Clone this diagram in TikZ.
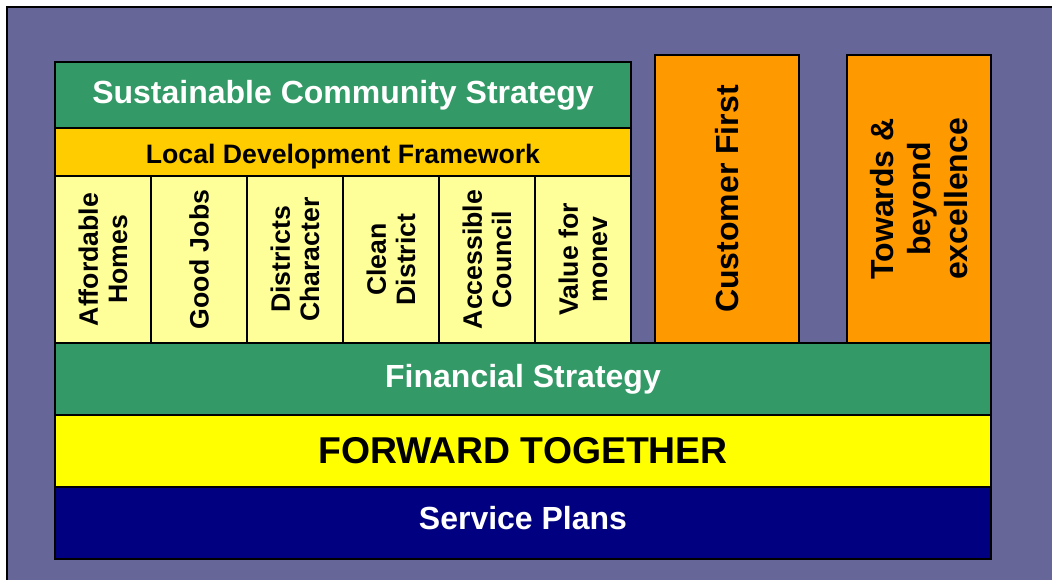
\documentclass[tikz,border=0pt]{standalone}
\usepackage{fontspec}
\setmainfont{Liberation Sans}
\definecolor{slate}{HTML}{666699}
\definecolor{teal}{HTML}{339966}
\definecolor{amber}{HTML}{FFCC00}
\definecolor{cream}{HTML}{FFFF99}
\definecolor{tangerine}{HTML}{FF9900}
\definecolor{lemon}{HTML}{FFFF00}
\definecolor{deepnavy}{HTML}{000080}

\begin{document}
\begin{tikzpicture}[x=0.75pt, y=-0.75pt,
  every node/.style={font=\bfseries\fontsize{24}{27.6}\selectfont},
  box/.style 2 args={draw, line width=1.1pt, inner sep=0pt, align=center,
    minimum width=#1*0.75pt, minimum height=#2*0.75pt},
  cell/.style={box={167}{96}, rotate=90, fill=cream,
    font=\bfseries\fontsize{20}{22}\selectfont}]
\useasboundingbox (0,0) rectangle (1052,580);
\draw[fill=slate, line width=0.8pt] (7,7) rectangle (1080,610);

% strategy stack on the left
\node[box={576}{66}, fill=teal, text=white] (scs) at (343,95) {Sustainable Community Strategy};
\node[box={576}{48}, fill=amber, text height=18pt, text depth=0pt,
  font=\bfseries\fontsize{20}{22}\selectfont] (ldf) at (343,152) {Local Development Framework};
\foreach \txt [count=\i from 0] in {{Affordable\\Homes}, {Good Jobs}, {Districts\\Character},
    {Clean\\District}, {Accessible\\Council}, {Value for\\monev}}
  \node[cell] (c\i) at (103+96*\i,259.5) {\txt};

% the two side columns
\node[box={288}{144}, rotate=90, fill=tangerine] (cust) at (727,199) {Customer First};
\node[box={288}{144}, rotate=90, fill=tangerine] (tow) at (919,199) {Towards \&\\beyond\\excellence};

% bands along the bottom
\node[box={936}{72}, fill=teal, text=white] (fin) at (523,379) {Financial Strategy};
\node[box={936}{72}, fill=lemon, font=\bfseries\fontsize{28}{32}\selectfont] (fwd) at (523,451) {FORWARD TOGETHER};
\node[box={936}{72}, fill=deepnavy, text=white, text height=17pt, text depth=7pt] (srv) at (523,523) {Service Plans};
\end{tikzpicture}
\end{document}
